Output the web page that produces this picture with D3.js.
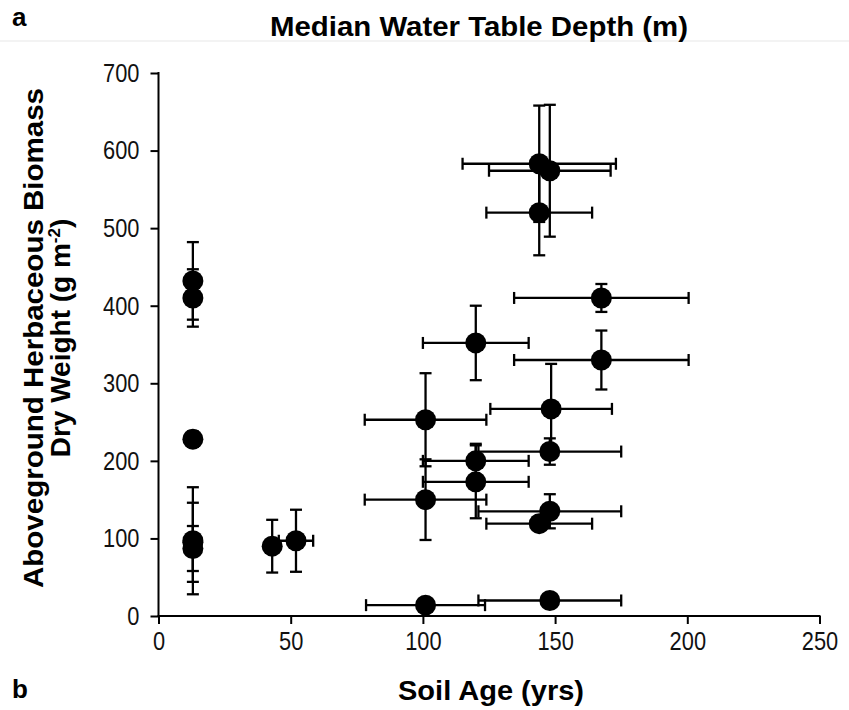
<!DOCTYPE html>
<meta charset="utf-8">
<body style="margin:0;background:white">
  <div id="content"></div>
</body>
<script src="https://cdn.jsdelivr.net/npm/d3@7"></script>
<script>
// soil age (yrs) with its error, biomass (g m-2) with its error
var soilAge    = [13, 13, 13, 13, 13, 13, 43, 52, 120, 101, 148.5, 148, 120, 120, 101, 148, 144, 101, 148, 144, 144, 148, 167.5, 167.5];
var soilAgeErr = [0, 0, 0, 0, 0, 0, 0, 6.5, 20, 23, 23, 27, 20, 20, 23, 27, 20, 22.5, 27, 29, 20, 23, 33, 33];
var biomass    = [432, 410, 228, 97, 95, 87, 90, 97, 352, 253, 267, 212, 200, 173, 150, 135, 119, 14, 20, 583, 520, 574, 410, 330];
var biomassErr = [50, 37, 10, 69, 51, 29, 34, 40, 48, 60, 58, 17, 22, 47, 52, 22, 7, 3, 3, 75, 55, 85, 18, 38];

var xTicks = [0, 50, 100, 150, 200, 250];
var yTicks = [0, 100, 200, 300, 400, 500, 600, 700];

var chart = { width: 849, height: 710 };
var plot = { left: 158.5, right: 819.5, top: 73, bottom: 616 };
var dot = { r: 10.5, cap: 6 };
var font = '"Liberation Sans", Arial, sans-serif';
var squeeze = 0.84; // tick labels look narrow and tall

var points = soilAge.map(function (d, i) {
    return { x: d, xe: soilAgeErr[i], y: biomass[i], ye: biomassErr[i] };
});

var svg = d3.select('#content').append('svg')
    .attr('width', chart.width).attr('height', chart.height)
    .style('font-family', font);

var x = d3.scaleLinear().domain([0, 250]).range([plot.left, plot.right]);
var y = d3.scaleLinear().domain([0, 700]).range([plot.bottom, plot.top]);

// faint rule under the title
svg.append('line').attr('x1', 0).attr('x2', chart.width).attr('y1', 41).attr('y2', 41)
    .attr('stroke', '#f3f3f3').attr('stroke-width', 2);

// axes
var xAxis = svg.append('g').attr('transform', 'translate(0,' + plot.bottom + ')')
    .call(d3.axisBottom(x).tickValues(xTicks).tickSize(8).tickSizeOuter(0).tickPadding(8));
var yAxis = svg.append('g').attr('transform', 'translate(' + plot.left + ',0)')
    .call(d3.axisLeft(y).tickValues(yTicks).tickSize(8).tickSizeOuter(0).tickPadding(11));

[xAxis, yAxis].forEach(function (g) {
    g.select('.domain').attr('stroke', '#000').attr('stroke-width', 2);
    g.selectAll('.tick line').attr('stroke', '#000').attr('stroke-width', 2);
    g.selectAll('.tick text').attr('fill', '#111').style('font-size', '26px').style('font-family', font);
});
xAxis.selectAll('.tick text').attr('transform', 'scale(' + squeeze + ',1)');
yAxis.selectAll('.tick text')
    .attr('transform', 'scale(' + squeeze + ',1)')
    .attr('x', -19 / squeeze);
xAxis.select('.domain').attr('d', 'M' + (plot.left - 1) + ',0H' + (plot.right + 1));
yAxis.select('.domain').attr('d', 'M0,' + (plot.top - 1) + 'V' + (plot.bottom + 1));

// error bars
var bars = svg.append('g').attr('stroke', '#000').attr('stroke-width', 2.3).attr('fill', 'none');
points.forEach(function (d) {
    if (d.ye > 0) {
        bars.append('line').attr('x1', x(d.x)).attr('x2', x(d.x)).attr('y1', y(d.y - d.ye)).attr('y2', y(d.y + d.ye));
        [d.y - d.ye, d.y + d.ye].forEach(function (v) {
            bars.append('line').attr('x1', x(d.x) - dot.cap).attr('x2', x(d.x) + dot.cap).attr('y1', y(v)).attr('y2', y(v));
        });
    }
    if (d.xe > 0) {
        bars.append('line').attr('y1', y(d.y)).attr('y2', y(d.y)).attr('x1', x(d.x - d.xe)).attr('x2', x(d.x + d.xe));
        [d.x - d.xe, d.x + d.xe].forEach(function (v) {
            bars.append('line').attr('y1', y(d.y) - dot.cap).attr('y2', y(d.y) + dot.cap).attr('x1', x(v)).attr('x2', x(v));
        });
    }
});

// points
svg.append('g').selectAll('circle').data(points).enter().append('circle')
    .attr('cx', function (d) { return x(d.x); })
    .attr('cy', function (d) { return y(d.y); })
    .attr('r', dot.r)
    .attr('fill', '#000');

// titles
function label(txt, px, py, len) {
    var t = svg.append('text').attr('x', px).attr('y', py)
        .style('font-size', '28px').style('font-weight', 'bold').attr('fill', '#000')
        .text(txt);
    if (len) t.attr('text-anchor', 'middle').attr('textLength', len).attr('lengthAdjust', 'spacingAndGlyphs');
    return t;
}
label('Median Water Table Depth (m)', 479, 36, 418);
label('Soil Age (yrs)', 491, 700, 186);
label('a', 12, 26).style('font-size', '26px');
label('b', 12, 698).style('font-size', '26px');

var yTitle = svg.append('g').attr('transform', 'translate(43,338) rotate(-90)');
yTitle.append('text').attr('x', 0).attr('y', 0).attr('text-anchor', 'middle')
    .style('font-size', '28px').style('font-weight', 'bold').attr('fill', '#000')
    .attr('textLength', 500).attr('lengthAdjust', 'spacingAndGlyphs')
    .text('Aboveground Herbaceous Biomass');
var line2 = yTitle.append('text').attr('x', 0).attr('y', 27).attr('text-anchor', 'middle')
    .style('font-size', '28px').style('font-weight', 'bold').attr('fill', '#000');
line2.append('tspan').text('Dry Weight (g m');
line2.append('tspan').attr('dy', -10).style('font-size', '17px').text('-2');
line2.append('tspan').attr('dy', 10).text(')');
</script>
